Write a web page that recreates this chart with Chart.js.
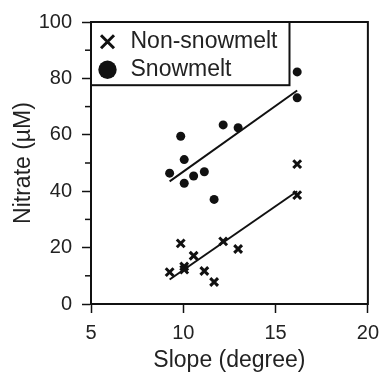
<!DOCTYPE html>
<html>
<head>
<meta charset="utf-8">
<script src="https://cdn.jsdelivr.net/npm/chart.js@4"></script>
<style>
  html, body { margin: 0; padding: 0; background: #fff; }
  #wrap { width: 387px; height: 376px; }
</style>
</head>
<body>
<div id="wrap"><canvas id="myChart" width="387" height="376"></canvas></div>
<script>
  // values
  const nonSlope = [16.17, 16.17, 9.86, 12.16, 12.97, 10.56, 10.05, 10.05, 9.26, 11.14, 11.67];
  const nonNitrate = [49.6, 38.6, 21.5, 22.2, 19.5, 17.1, 13.3, 12.2, 11.3, 11.7, 7.8];
  const snowSlope = [16.17, 16.17, 9.86, 12.16, 12.97, 10.05, 9.26, 10.56, 11.14, 10.05, 11.67];
  const snowNitrate = [82.3, 73.1, 59.5, 63.5, 62.5, 51.2, 46.4, 45.4, 46.9, 42.8, 37.1];

  // fitted lines (end points)
  const fitSlope = [9.26, 16.17];
  const nonFit = [8.7, 40.0];
  const snowFit = [43.5, 75.7];

  const minorTicks = [10, 30, 50, 70, 90];

  const FONT = "'Liberation Sans', Arial, sans-serif";
  const INK = '#111';

  const toPoints = (xs, ys) => xs.map((x, i) => ({ x: x, y: ys[i] }));

  // frame around the plot, minor y ticks and the box round the legend
  const framePlugin = {
    id: 'frame',
    afterDraw(chart) {
      const c = chart.ctx;
      const a = chart.chartArea;
      const y = chart.scales.y;
      c.save();
      c.strokeStyle = INK;
      c.lineWidth = 2;
      c.strokeRect(a.left, a.top, a.right - a.left, a.bottom - a.top);

      c.lineWidth = 1.5;
      minorTicks.forEach(v => {
        const py = y.getPixelForValue(v);
        c.beginPath();
        c.moveTo(a.left - 6, py);
        c.lineTo(a.left, py);
        c.stroke();
      });

      const boxes = chart.legend.legendHitBoxes;
      if (boxes && boxes.length) {
        let right = 0, bottom = 0;
        boxes.forEach(b => {
          right = Math.max(right, b.left + b.width);
          bottom = Math.max(bottom, b.top + b.height);
        });
        c.lineWidth = 2;
        c.strokeRect(a.left, a.top, right + 12 - a.left, bottom + 4 - a.top);
      }
      c.restore();
    }
  };

  const ctx = document.getElementById('myChart').getContext('2d');

  const myChart = new Chart(ctx, {
    type: 'scatter',
    data: {
      datasets: [{
        label: 'Non-snowmelt',
        data: toPoints(nonSlope, nonNitrate),
        pointStyle: 'crossRot',
        pointRadius: 5.5,
        borderColor: INK,
        backgroundColor: INK,
        borderWidth: 3
      }, {
        label: 'Snowmelt',
        data: toPoints(snowSlope, snowNitrate),
        pointStyle: 'circle',
        pointRadius: 4.5,
        borderColor: INK,
        backgroundColor: INK,
        borderWidth: 0
      }, {
        label: 'non fit',
        type: 'line',
        data: toPoints(fitSlope, nonFit),
        borderColor: INK,
        borderWidth: 2,
        pointRadius: 0
      }, {
        label: 'snow fit',
        type: 'line',
        data: toPoints(fitSlope, snowFit),
        borderColor: INK,
        borderWidth: 2,
        pointRadius: 0
      }]
    },
    options: {
      responsive: false,
      animation: false,
      layout: {
        padding: { top: 19, right: 11, left: 0, bottom: 0 }
      },
      plugins: {
        tooltip: { enabled: false },
        legend: {
          position: 'chartArea',
          align: 'start',
          // empty title only pushes the items down below the top padding
          title: {
            display: true,
            text: '',
            padding: { top: 24, bottom: 0 },
            font: { size: 1 }
          },
          labels: {
            usePointStyle: true,
            boxHeight: 13,
            padding: 5,
            color: '#222',
            font: { family: FONT, size: 23 },
            filter: item => item.datasetIndex < 2
          }
        }
      },
      scales: {
        x: {
          type: 'linear',
          min: 5,
          max: 20,
          afterFit: s => { s.height = 72; },
          ticks: {
            stepSize: 5,
            padding: 8,
            color: '#222',
            font: { family: FONT, size: 20 }
          },
          grid: {
            drawOnChartArea: false,
            tickLength: 9,
            tickWidth: 1.5,
            tickColor: INK
          },
          border: { display: true, color: INK, width: 2 },
          title: {
            display: true,
            text: 'Slope (degree)',
            color: '#222',
            padding: { top: 0, bottom: 2 },
            font: { family: FONT, size: 23 }
          }
        },
        y: {
          min: 0,
          max: 100,
          afterFit: s => { s.width = 91; },
          ticks: {
            stepSize: 20,
            padding: 10,
            color: '#222',
            font: { family: FONT, size: 20 }
          },
          grid: {
            drawOnChartArea: false,
            tickLength: 9,
            tickWidth: 1.5,
            tickColor: INK
          },
          border: { display: true, color: INK, width: 2 },
          title: {
            display: true,
            text: 'Nitrate (\u00b5M)',
            color: '#222',
            padding: { top: 10, bottom: 0 },
            font: { family: FONT, size: 23 }
          }
        }
      }
    },
    plugins: [framePlugin]
  });
</script>
</body>
</html>
